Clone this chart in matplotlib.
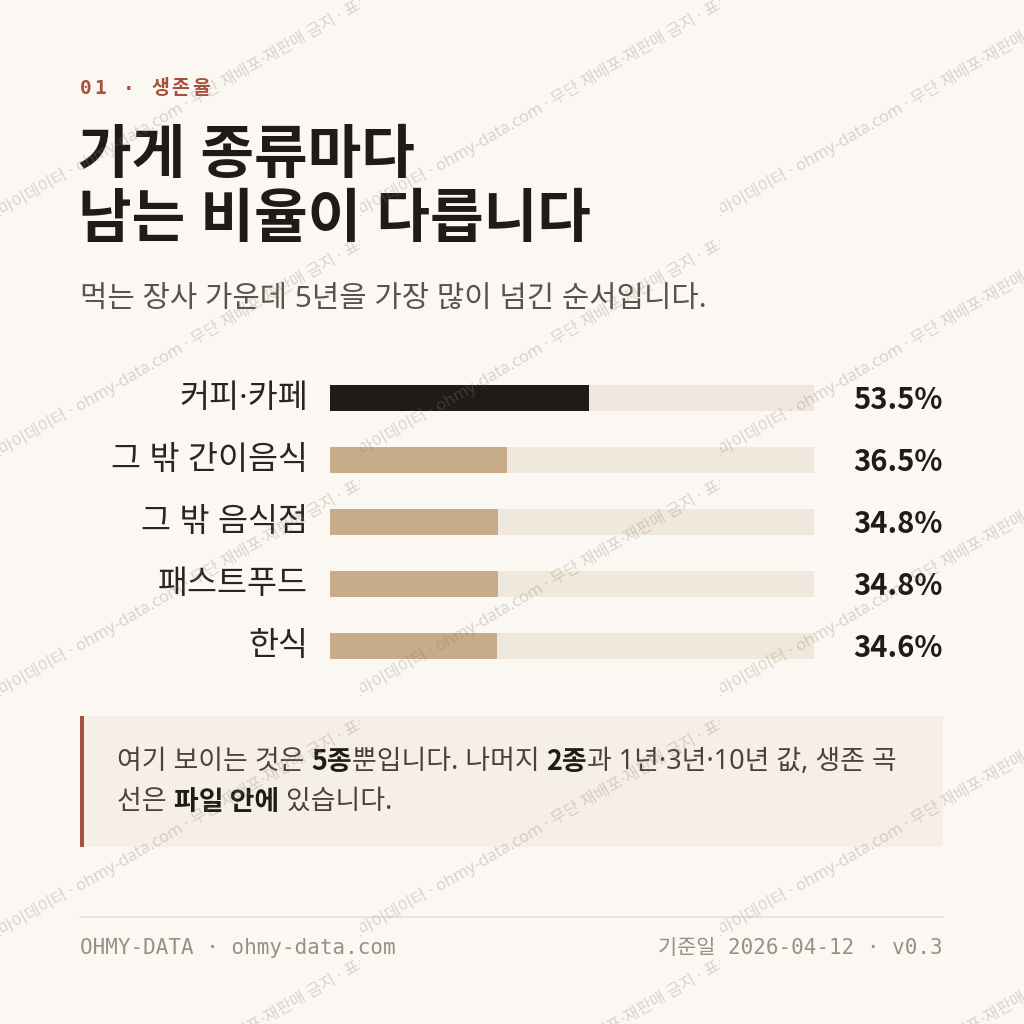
import matplotlib
matplotlib.use("Agg")
import matplotlib.pyplot as plt
from matplotlib.patches import Rectangle
from matplotlib import transforms

plt.rcParams['font.family'] = ['Noto Sans', 'Noto Sans CJK KR', 'DejaVu Sans']

# data
categories = ['커피·카페', '그 밖 간이음식', '그 밖 음식점', '패스트푸드', '한식']
rates = [53.5, 36.5, 34.8, 34.8, 34.6]
value_labels = ['53.5%', '36.5%', '34.8%', '34.8%', '34.6%']

kicker = '01 · 생존율'
title_lines = ['가게 종류마다', '남는 비율이 다릅니다']
subtitle = '먹는 장사 가운데 5년을 가장 많이 넘긴 순서입니다.'
note_line1 = [('여기 보이는 것은 ', False), ('5종', True), ('뿐입니다. 나머지 ', False),
              ('2종', True), ('과 1년·3년·10년 값, 생존 곡', False)]
note_line2 = [('선은 ', False), ('파일 안에', True), (' 있습니다.', False)]
footer_left = 'OHMY-DATA · ohmy-data.com'
footer_right = '기준일 2026-04-12 · v0.3'
watermark = '오마이데이터 · ohmy-data.com · 무단 재배포·재판매 금지 · 표본 데이터'

BG = '#fbf8f3'
TRACK = '#f0e8dc'
TAN = '#c8ab88'
DARK = '#1f1b19'
ACCENT = '#a4523c'
MONO = ['DejaVu Sans Mono', 'Noto Sans CJK KR']
BOLD = ['Noto Sans CJK KR', 'DejaVu Sans']

fig = plt.figure(figsize=(10.24, 10.24), dpi=100, facecolor=BG)
bg = fig.add_axes([0, 0, 1, 1])
bg.set_xlim(0, 1024)
bg.set_ylim(1024, 0)
bg.axis('off')
renderer = fig.canvas.get_renderer()


def spaced_text(ax, x, y, s, gap, **kw):
    # draw characters one by one with extra letter spacing
    for ch in s:
        t = ax.text(x, y, ch, va='center', ha='left', **kw)
        w = t.get_window_extent(renderer=renderer).width
        if ch == ' ':
            w = kw.get('fontsize', 12) * 0.6 * 100 / 72
        x += w + gap


def rich_text(ax, x, y, runs, size, normal_color, bold_color):
    for txt, bold in runs:
        if bold:
            t = ax.text(x, y, txt, va='center', ha='left', fontsize=size,
                        color=bold_color, fontweight='bold', family=BOLD)
        else:
            t = ax.text(x, y, txt, va='center', ha='left', fontsize=size,
                        color=normal_color)
        x += t.get_window_extent(renderer=renderer).width


# header
spaced_text(bg, 80, 89, kicker, 2.5, fontsize=14, color=ACCENT,
            family=MONO, fontweight='bold')
bg.text(78, 157, title_lines[0], fontsize=42, fontweight='bold', color=DARK,
        va='center', ha='left')
bg.text(78, 222, title_lines[1], fontsize=42, fontweight='bold', color=DARK,
        va='center', ha='left')
bg.text(80, 300, subtitle, fontsize=21.4, color='#5b534b', va='center', ha='left')

# bars
ax = fig.add_axes([330 / 1024, 1 - 677 / 1024, 484 / 1024, 310 / 1024])
ax.set_xlim(0, 100)
ax.set_ylim(len(categories) - 0.5, -0.5)
ax.axis('off')
ypos = list(range(len(categories)))
ax.barh(ypos, [100] * len(rates), height=0.42, color=TRACK, zorder=1)
ax.barh(ypos, rates, height=0.42,
        color=[DARK] + [TAN] * (len(rates) - 1), zorder=2)

lab_tr = transforms.offset_copy(ax.get_yaxis_transform(), fig=fig, x=-22, y=0, units='dots')
val_tr = transforms.blended_transform_factory(fig.transFigure, ax.transData)
for i, (cat, lab) in enumerate(zip(categories, value_labels)):
    ax.text(0, i, cat, transform=lab_tr, ha='right', va='center',
            fontsize=23.5, color='#2a2522')
    ax.text(943 / 1024, i + 0.04, lab, transform=val_tr, ha='right', va='center',
            fontsize=21, fontweight='bold', family=BOLD, color=DARK)

# callout
bg.add_patch(Rectangle((80, 716), 863, 131, facecolor='#f6efe6', edgecolor='none', zorder=0))
bg.add_patch(Rectangle((80, 716), 4, 131, facecolor=ACCENT, edgecolor='none', zorder=1))
rich_text(bg, 117, 762, note_line1, 19.4, '#4a433c', DARK)
rich_text(bg, 117, 802, note_line2, 19.4, '#4a433c', DARK)

# footer
bg.plot([80, 943], [917, 917], color='#e6e0d6', lw=1.2)
bg.text(80, 948, footer_left, fontsize=15, family=MONO, color='#9b8f80',
        va='center', ha='left')
bg.text(943, 948, footer_right, fontsize=15, family=MONO, color='#9b8f80',
        va='center', ha='right')

# watermark tiles, each clipped to its own 360x240 cell
for tx in range(0, 1024, 360):
    for ty in range(0, 1024, 240):
        w = min(360, 1024 - tx)
        h = min(240, 1024 - ty)
        tax = fig.add_axes([tx / 1024, 1 - (ty + h) / 1024, w / 1024, h / 1024])
        tax.set_xlim(tx, tx + w)
        tax.set_ylim(ty + h, ty)
        tax.axis('off')
        tax.set_zorder(5)
        tax.text(tx - 12, ty + 219, watermark, rotation=30, rotation_mode='anchor',
                 fontsize=11.8, color='#8a7f72', alpha=0.3, va='center', ha='left',
                 clip_on=True)

fig.savefig('out.png', dpi=100, facecolor=BG)
